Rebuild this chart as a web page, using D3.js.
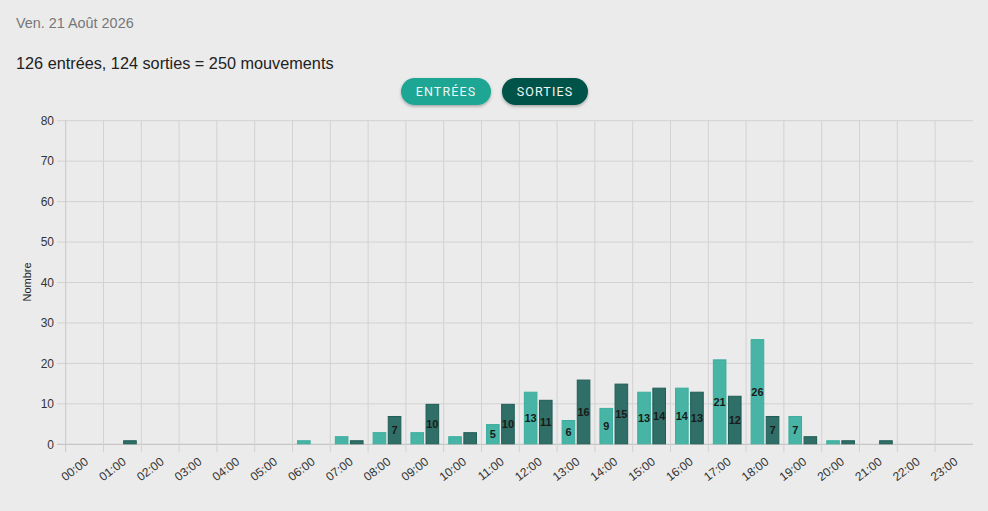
<!DOCTYPE html>
<html><head><meta charset="utf-8">
<script src="https://cdn.jsdelivr.net/npm/d3@7/dist/d3.min.js"></script>
<style>
html,body{margin:0;padding:0;background:#ebebeb;}
svg{display:block;}
</style></head>
<body>
<svg id="c" width="988" height="511"></svg>
<script>
const hours = ["00:00","01:00","02:00","03:00","04:00","05:00","06:00","07:00","08:00","09:00","10:00","11:00","12:00","13:00","14:00","15:00","16:00","17:00","18:00","19:00","20:00","21:00","22:00","23:00"];
const entrees = [0,0,0,0,0,0,1,2,3,3,2,5,13,6,9,13,14,21,26,7,1,0,0,0];
const sorties = [0,1,0,0,0,0,0,1,7,10,3,10,11,16,15,14,13,12,7,2,1,1,0,0];
const yTicks = [0,10,20,30,40,50,60,70,80];
const seriesNames = ["ENTRÉES","SORTIES"];
const dateLabel = "Ven. 21 Août 2026";
const totEntrees = d3.sum(entrees), totSorties = d3.sum(sorties);
const summary = `${totEntrees} entrées, ${totSorties} sorties = ${totEntrees+totSorties} mouvements`;

const fills = ["#47b4a5","#2f6f67"], strokes = ["#3aae9e","#1f5d55"];
const btnFill = ["#1fa693","#00524a"];

const svg = d3.select("#c");
const defs = svg.append("defs");
const f = defs.append("filter").attr("id","sh").attr("x","-20%").attr("y","-30%").attr("width","140%").attr("height","170%");
f.append("feDropShadow").attr("dx",0).attr("dy",1.5).attr("stdDeviation",1.5).attr("flood-color","#000").attr("flood-opacity",0.3);

const font = "Liberation Sans, Arial, Helvetica, sans-serif";
svg.append("text").attr("x",16).attr("y",28).attr("font-family",font).attr("font-size",14.4).attr("fill","#777").text(dateLabel);
svg.append("text").attr("x",16).attr("y",69).attr("font-family",font).attr("font-size",16.25).attr("fill","#222").text(summary);

// legend buttons
const btnX = [401, 502], btnW = [90, 86];
seriesNames.forEach((n,i)=>{
  const g = svg.append("g").attr("transform",`translate(${btnX[i]},78)`);
  g.append("rect").attr("width",btnW[i]).attr("height",27).attr("rx",13.5).attr("fill",btnFill[i]).attr("filter","url(#sh)");
  g.append("text").attr("x",btnW[i]/2).attr("y",18).attr("text-anchor","middle").attr("font-family","Roboto").attr("font-size",12.5)
   .attr("letter-spacing","1.1").attr("fill","#eef7f5").text(n);
});

const L = 65.7, R = 972.9, T = 120.7, B = 444.3;
const x = d3.scaleBand().domain(hours).range([L,R]).padding(0);
const xs = d3.scaleBand().domain([0,1]).range([x.bandwidth()*0.1, x.bandwidth()*0.9]).paddingInner(0.1).paddingOuter(0.05);
const y = d3.scaleLinear().domain([0,80]).range([B,T]);

// horizontal grid
const gy = svg.append("g");
yTicks.forEach(t=>{
  gy.append("line").attr("x1",57).attr("x2",R).attr("y1",y(t)).attr("y2",y(t))
    .attr("stroke", t===0 ? "#bdbdbd" : "#d2d2d2").attr("stroke-width",1);
  gy.append("text").attr("x",54).attr("y",y(t)).attr("dy","0.35em").attr("text-anchor","end")
    .attr("font-family",font).attr("font-size",12).attr("fill","#333").text(t);
});
// vertical grid
hours.forEach(h=>{
  svg.append("line").attr("x1",x(h)).attr("x2",x(h)).attr("y1",T).attr("y2",B+8)
    .attr("stroke", h==="00:00" ? "#c8c8c8" : "#d2d2d2").attr("stroke-width",1);
});
// x labels
hours.forEach(h=>{
  const cx = x(h)+x.bandwidth()/2;
  svg.append("text").attr("transform",`translate(${cx+2},460) rotate(-37)`).attr("dy","0.35em")
    .attr("text-anchor","end").attr("font-family",font).attr("font-size",12).attr("fill","#333").text(h);
});
svg.append("text").attr("transform",`translate(31,282) rotate(-90)`).attr("text-anchor","middle")
  .attr("font-family",font).attr("font-size",11).attr("fill","#222").text("Nombre");

// bars
const series = [entrees, sorties];
series.forEach((vals,si)=>{
  const g = svg.append("g");
  vals.forEach((v,i)=>{
    if (v<=0) return;
    const bx = x(hours[i]) + xs(si), bw = xs.bandwidth();
    g.append("rect").attr("x",bx+0.5).attr("y",y(v)+0.5).attr("width",bw-1).attr("height",Math.max(0,y(0)-y(v)-1))
      .attr("fill",fills[si]).attr("stroke",strokes[si]).attr("stroke-width",1);
    if (v>=5) {
      g.append("text").attr("x",bx+bw/2).attr("y",(y(v)+y(0))/2).attr("dy","0.35em").attr("text-anchor","middle")
        .attr("font-family",font).attr("font-size",11).attr("font-weight","bold").attr("fill","#1a1a1a").text(v);
    }
  });
});
</script>
</body></html>
